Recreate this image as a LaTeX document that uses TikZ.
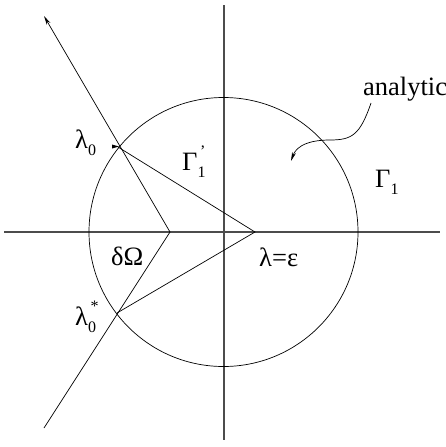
\documentclass[tikz,border=0pt]{standalone}
\usepackage{fontspec}
\setmainfont{Liberation Serif}
\usetikzlibrary{arrows.meta}
\newcommand{\sbs}[1]{\raisebox{-0.3em}{\fontsize{16}{16}\selectfont #1}}
\newcommand{\sps}[1]{\raisebox{0.5em}{\fontsize{16}{16}\selectfont #1}}
\begin{document}
\begin{tikzpicture}[x=1pt,y=-1pt,
  axis/.style={draw=black!70,line width=1.1pt},
  thin line/.style={draw=black,line width=0.7pt},
  lbl/.style={inner sep=0pt,font=\fontsize{26.5}{26.5}\selectfont},
  tip/.style={-{Stealth[length=9pt,width=4pt]}}]
\useasboundingbox (0,0) rectangle (446,447);
% axes
\coordinate (xl) at (4,232);
\coordinate (xr) at (440,232);
\coordinate (yt) at (224,5);
\coordinate (yb) at (224,440);
\draw[axis] (xl) -- (xr);
\draw[axis] (yt) -- (yb);
% circle
\coordinate (c) at (223.5,232);
\draw[thin line] (c) circle[radius=134.5];
% points
\coordinate (l0) at (118,147);
\coordinate (l0s) at (117,313);
\coordinate (apexL) at (170,232);
\coordinate (apexR) at (255,232);
\coordinate (tipU) at (44,16);
\coordinate (endD) at (44,428);
\draw[thin line,tip] (apexL) -- (tipU);
\draw[thin line] (apexL) -- (endD);
\draw[thin line] (l0) -- (apexR) -- (l0s);
% small mark at lambda0
\fill (112,144.5) -- (119,146.5) -- (112,148.5) -- cycle;
% curved arrow
\coordinate (cs) at (371,103);
\coordinate (ce) at (291,161);
\draw[thin line,tip] (cs) .. controls (360,135) and (352,140) .. (330,140)
   .. controls (302,140) and (295,150) .. (ce);
% labels
\node[lbl,anchor=base west] (an) at (363,95) {analytic};
\node[lbl,anchor=base west] (g1) at (375,187) {Γ\sbs{1}};
\node[lbl,anchor=base west] (g1p) at (182,170) {Γ\makebox[0pt][l]{\sps{\,’}}\sbs{1}};
\node[lbl,anchor=base west] (lam0) at (75,148) {λ\sbs{0}};
\node[lbl,anchor=base west] (lam0s) at (75,325) {λ\makebox[0pt][l]{\sps{\,*}}\sbs{0}};
\node[lbl,anchor=base west] (dO) at (111,265) {δΩ};
\node[lbl,anchor=base west] (le) at (259,266) {λ=ε};
\end{tikzpicture}
\end{document}
